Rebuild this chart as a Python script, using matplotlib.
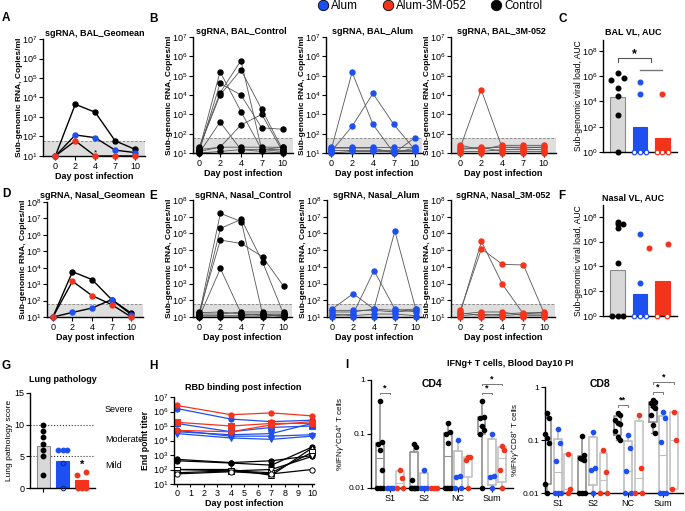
import matplotlib
matplotlib.use('Agg')
import matplotlib.pyplot as plt
import numpy as np
from matplotlib.lines import Line2D
from matplotlib.ticker import FuncFormatter, NullLocator

plt.rcParams['font.family'] = ['Liberation Sans', 'DejaVu Sans']
plt.rcParams['mathtext.fontset'] = 'custom'
plt.rcParams['mathtext.rm'] = 'Liberation Sans'
plt.rcParams['mathtext.it'] = 'Liberation Sans:italic'
plt.rcParams['mathtext.bf'] = 'Liberation Sans:bold'

# ---------------- data ----------------
DAYS = [0, 2, 4, 7, 10]
LOD = 60

bal_geo_control = [10, 4500, 1750, 60, 22]
bal_geo_alum = [10, 120, 87, 20, 15]
bal_geo_3m = [10, 60, 10, 10, 10]

nasal_geo_control = [10, 5700, 1900, 115, 17]
nasal_geo_alum = [10, 19, 35, 115, 14]
nasal_geo_3m = [10, 1500, 200, 57, 10]

bal_control = [
    [15, 1.6e5, 1.4e3, 15, 15],
    [12, 4e4, 1e4, 200, 170],
    [20, 1.3e4, 6e5, 15, 12],
    [18, 1e4, 2e5, 1.8e3, 15],
    [10, 400, 15, 15, 20],
    [15, 20, 280, 1e3, 12],
    [12, 20, 20, 20, 20],
    [10, 12, 15, 12, 10],
]
bal_alum = [
    [15, 1.5e5, 300, 10, 60],
    [12, 240, 1.2e4, 300, 15],
    [20, 20, 20, 20, 20],
    [15, 15, 15, 15, 15],
    [10, 12, 12, 12, 12],
    [18, 18, 18, 10, 18],
]
bal_3m = [
    [20, 1.9e4, 20, 20, 20],
    [25, 15, 25, 25, 25],
    [12, 12, 15, 15, 15],
    [15, 20, 12, 12, 12],
    [10, 10, 10, 10, 10],
    [18, 18, 20, 18, 20],
]

nasal_control = [
    [15, 1.6e7, 5e6, 15, 12],
    [12, 2e6, 7e6, 2e4, 15],
    [20, 4e5, 2.5e5, 4e4, 700],
    [10, 8e3, 15, 15, 15],
    [15, 15, 20, 20, 20],
    [18, 20, 15, 12, 12],
    [12, 12, 12, 15, 10],
    [10, 10, 10, 10, 15],
]
nasal_alum = [
    [30, 250, 30, 25, 30],
    [12, 15, 6e3, 30, 20],
    [20, 20, 30, 1.4e6, 30],
    [25, 25, 25, 20, 25],
    [15, 12, 15, 15, 12],
    [10, 10, 10, 10, 10],
]
nasal_3m = [
    [20, 3.3e5, 900, 15, 15],
    [25, 1.2e5, 1.4e4, 1.3e4, 15],
    [15, 20, 20, 12, 12],
    [12, 15, 12, 15, 20],
    [10, 10, 10, 10, 10],
    [18, 12, 15, 18, 18],
]

# AUC panels (C, F)
bal_auc_bars = [2.2e4, 100, 12]
bal_auc_control = [1.9e6, 6.5e5, 4.5e5, 1.1e5, 2.7e4, 800, 1]
bal_auc_alum = [3.2e5, 3.7e4, 1, 1, 1]
bal_auc_3m = [3.7e4, 1, 1, 1]

nasal_auc_bars = [5e3, 63, 630]
nasal_auc_control = [3.7e7, 2.5e7, 2.5e7, 1.3e7, 1.9e4, 1, 1, 1]
nasal_auc_alum = [4e6, 500, 1, 1, 1]
nasal_auc_3m = [3e5, 6e5, 1, 1]

# G lung pathology
lung_bars = [6.7, 4.3, 1.2]
lung_control = [10, 9, 8, 7, 6, 5, 2]
lung_alum = [6, 6, 6]
lung_alum_open = [4, 0]
lung_3m = [2, 2.5, 0, 0, 0]

# H RBD binding
rbd_days = [0, 4, 7, 10]
rbd_3m = [[2.6e6, 6e5, 8e5, 5e5],
          [1.8e5, 1e5, 1.5e5, 1.5e5],
          [5e4, 4e4, 1.2e5, 2e5]]
rbd_alum = [[1.6e6, 3e5, 2e5, 2.5e5],
            [1.5e5, 4e4, 8e4, 1e5],
            [4e4, 2.5e4, 3e4, 1.5e5],
            [3e4, 1.5e4, 1.2e4, 2e4],
            [5e4, 2e4, 2e4, 2.5e4]]
rbd_control = [[500, 300, 400, 900],
               [400, 280, 200, 3500],
               [100, 100, 40, 3000],
               [100, 80, 60, 1500],
               [60, 80, 100, 800],
               [50, 70, 50, 100]]

# I IFNg+ T cells
I_CATS = ['S1', 'S2', 'NC', 'Sum']
cd4_control = [[0.4, 0.07, 0.066, 0.05, 0.022, 0.01, 0.01, 0.01],
               [0.066, 0.057, 0.014, 0.01, 0.01, 0.01, 0.01, 0.01],
               [0.16, 0.107, 0.1, 0.068, 0.01, 0.01, 0.01, 0.01],
               [0.4, 0.21, 0.2, 0.14, 0.12, 0.1, 0.01]]
cd4_alum = [[0.01, 0.01, 0.01, 0.01],
            [0.022, 0.01, 0.01, 0.01],
            [0.078, 0.017, 0.016, 0.01, 0.01],
            [0.1, 0.017, 0.016, 0.01]]
cd4_3m = [[0.022, 0.015, 0.01, 0.01],
          [0.01, 0.01, 0.01],
          [0.038, 0.037, 0.033, 0.01],
          [0.06, 0.05, 0.022, 0.01]]
cd8_control = [[0.33, 0.26, 0.13, 0.108, 0.086, 0.0146, 0.01],
               [0.12, 0.052, 0.045, 0.044, 0.042, 0.01, 0.01, 0.01],
               [0.32, 0.3, 0.24, 0.21, 0.2, 0.15, 0.115, 0.1],
               [0.57, 0.53, 0.49, 0.44, 0.4, 0.3, 0.19, 0.134]]
cd8_alum = [[0.16, 0.086, 0.04, 0.01, 0.01, 0.01],
            [0.14, 0.029, 0.027, 0.01],
            [0.125, 0.07, 0.026, 0.01, 0.01],
            [0.34, 0.26, 0.093, 0.01, 0.01, 0.01]]
cd8_3m = [[0.054, 0.012, 0.01],
          [0.066, 0.025, 0.01, 0.01],
          [0.3, 0.029, 0.01, 0.01],
          [0.34, 0.1, 0.012]]

# ---------------- style ----------------
BLUE = '#1E4FF0'
RED = '#F5331B'
BLACK = '#000000'
GREYBAR = '#D8D8D8'
FS = 6.5

W, H = 685, 511
fig = plt.figure(figsize=(W / 100, H / 100), dpi=100)


def px_axes(l, t, r, b):
    return fig.add_axes([l / W, 1 - b / H, (r - l) / W, (b - t) / H])


def ftext(x, y, s, **kw):
    kw.setdefault('ha', 'center')
    kw.setdefault('va', 'center')
    fig.text(x / W, 1 - y / H, s, **kw)


def ylab_at(ax, xpx):
    # xpx: centre of the rotated label in figure pixels
    pos = ax.get_position()
    ax.yaxis.set_label_coords(((xpx + 4) / W - pos.x0) / pos.width, 0.5)


def style(ax):
    for s in ['top', 'right']:
        ax.spines[s].set_visible(False)
    for s in ['left', 'bottom']:
        ax.spines[s].set_linewidth(1.0)
    ax.tick_params(labelsize=FS, length=3, width=0.8, pad=1.2)


pow_fmt = FuncFormatter(lambda v, _: r'$10^{%d}$' % round(np.log10(v)))


def log_y(ax, lo, hi, step=1, top=None):
    ax.set_yscale('log')
    ax.set_ylim(10.0 ** lo, 10.0 ** (top if top is not None else hi))
    ax.set_yticks([10.0 ** k for k in range(lo, hi + 1, step)])
    ax.yaxis.set_major_formatter(pow_fmt)
    ax.yaxis.set_minor_locator(NullLocator())


def sg_axes(box, top_exp, xlim):
    ax = px_axes(*box)
    style(ax)
    log_y(ax, 1, top_exp)
    ax.set_xlim(*xlim)
    ax.set_xticks(range(len(DAYS)))
    ax.set_xticklabels(DAYS)
    ax.axhspan(10, LOD, color='#dedede', lw=0, zorder=0)
    ax.axhline(LOD, ls=(0, (3, 2)), color='#808080', lw=0.6, zorder=1)
    ax.set_xlabel('Day post infection', fontweight='bold', fontsize=FS, labelpad=1)
    ax.set_ylabel('Sub-genomic RNA, Copies/ml', fontweight='bold', fontsize=6.0)
    ylab_at(ax, box[0] - 24)
    return ax


def geo_panel(box, top_exp, xlim, series):
    ax = sg_axes(box, top_exp, xlim)
    x = np.arange(len(DAYS))
    for vals, c in series:
        ax.plot(x, vals, color=BLACK, lw=1.0, zorder=2, clip_on=False)
    for vals, c in series:
        ax.plot(x, vals, 'o', color=c, ms=3.6, zorder=3, clip_on=False)
    return ax


def indiv_panel(box, top_exp, xlim, animals, c):
    ax = sg_axes(box, top_exp, xlim)
    x = np.arange(len(DAYS))
    for vals in animals:
        ax.plot(x, vals, color='#555555', lw=0.6, zorder=2, clip_on=False)
    for vals in animals:
        ax.plot(x, vals, 'o', color=c, ms=3.6, zorder=3, clip_on=False)
    return ax


# ---------------- A / B ----------------
ax = geo_panel((43, 39, 145, 156), 7, (-0.62, 4.5),
               [(bal_geo_control, BLACK), (bal_geo_alum, BLUE), (bal_geo_3m, RED)])
ax.text(2, 14, '*', ha='center', va='center', fontsize=6)
indiv_panel((193, 37, 293, 153), 7, (-0.3, 4.5), bal_control, BLACK)
indiv_panel((326, 37, 422, 153), 7, (-0.25, 4.35), bal_alum, BLUE)
indiv_panel((451, 37, 556, 153), 7, (-0.45, 4.6), bal_3m, RED)

# ---------------- D / E ----------------
geo_panel((47, 202, 143, 317), 8, (-0.3, 4.6),
          [(nasal_geo_control, BLACK), (nasal_geo_alum, BLUE), (nasal_geo_3m, RED)])
indiv_panel((193, 200, 292, 317), 8, (-0.3, 4.4), nasal_control, BLACK)
indiv_panel((327, 200, 422, 317), 8, (-0.25, 4.3), nasal_alum, BLUE)
indiv_panel((451, 200, 555, 317), 8, (-0.45, 4.5), nasal_3m, RED)


# ---------------- C / F ----------------
def auc_panel(box, top, bars, groups, offsets):
    ax = px_axes(*box)
    style(ax)
    log_y(ax, 0, 8, step=2, top=top)
    ax.set_xlim(-0.68, 2.68)
    ax.set_xticks([])
    pos = np.arange(3)
    ax.bar(pos, np.array(bars) - 1, bottom=1, width=0.68,
           color=[GREYBAR, BLUE, RED], edgecolor=['#8a8a8a', BLUE, RED], lw=0.8, zorder=1)
    for i, (vals, c) in enumerate(groups):
        for v, o in zip(vals, offsets[i]):
            if v <= 1 and c != BLACK:
                ax.plot(i + o, v, 'o', ms=3.3, mfc='white', mec=c, mew=0.9, zorder=3, clip_on=False)
            else:
                ax.plot(i + o, v, 'o', ms=3.3, color=c, zorder=3, clip_on=False)
    ax.set_ylabel('Sub-genomic viral load, AUC', fontsize=6.2)
    ylab_at(ax, 579)
    return ax


ax = auc_panel((603, 40, 677, 152), 8.85, bal_auc_bars,
               [(bal_auc_control, BLACK), (bal_auc_alum, BLUE), (bal_auc_3m, RED)],
               [[0, 0.27, -0.3, 0, 0, 0, 0], [0, 0, -0.25, 0, 0.25], [0, -0.25, 0, 0.25]])
ax.plot([0, 0, 1.5, 1.5], [10 ** 7.15, 10 ** 7.45, 10 ** 7.45, 10 ** 7.15], color='#555555', lw=0.8, clip_on=False)
ax.text(0.75, 10 ** 7.7, '*', ha='center', va='center', fontsize=9, fontweight='bold')
ax.plot([1, 2], [10 ** 6.45, 10 ** 6.45], color='#777777', lw=1.0)

auc_panel((603, 205, 677, 316), 8.95, nasal_auc_bars,
          [(nasal_auc_control, BLACK), (nasal_auc_alum, BLUE), (nasal_auc_3m, RED)],
          [[0, 0, 0.25, 0, 0, -0.25, 0, 0.25], [0, 0, -0.25, 0, 0.25], [-0.6, 0.25, -0.22, 0.22]])

# ---------------- G ----------------
ax = px_axes(30, 393, 95, 488)
style(ax)
ax.set_ylim(0, 15)
ax.set_yticks([0, 5, 10, 15])
ax.set_xlim(-0.67, 2.67)
ax.set_xticks([0])
ax.set_xticklabels([''])
ax.bar(range(3), lung_bars, width=0.67, color=[GREYBAR, BLUE, RED],
       edgecolor=['#8a8a8a', BLUE, RED], lw=0.8, zorder=1)
for lv in (5, 10):
    ax.axhline(lv, ls=':', color='#333333', lw=0.8, zorder=0)
ax.plot(np.zeros(len(lung_control)), lung_control, 'o', color=BLACK, ms=3.2, zorder=3, clip_on=False)
ax.plot(1 + np.array([-0.22, 0, 0.22]), lung_alum, 'o', color=BLUE, ms=3.2, zorder=3, clip_on=False)
ax.plot(np.ones(len(lung_alum_open)), lung_alum_open, 'o', mfc='none', mec='#0c2a9a', mew=0.8,
        ms=3.2, zorder=3, clip_on=False)
ax.plot(2 + np.array([-0.25, 0.22, -0.2, 0, 0.2]), lung_3m, 'o', color=RED, ms=3.2, zorder=3, clip_on=False)
ax.text(2, 3.7, '*', ha='center', va='center', fontsize=8, fontweight='bold')
ax.set_ylabel('Lung pathology score', fontsize=6.0)
ylab_at(ax, 9)
ftext(105, 410, 'Severe', ha='left', fontsize=FS)
ftext(105, 440, 'Moderate', ha='left', fontsize=FS)
ftext(105, 466, 'Mild', ha='left', fontsize=FS)

# ---------------- H ----------------
ax = px_axes(174, 397, 314, 484)
style(ax)
ax.tick_params(axis='x', length=2.5, pad=1)
log_y(ax, 1, 7)
ax.set_xlim(-0.22, 10.15)
ax.set_xticks(range(11))
rbd_sets = [(rbd_control, BLACK, ['o', 'o', '^', 's', 'v', 'o'], [True, True, False, False, False, False]),
            (rbd_alum, BLUE, ['o', 's', 'v', 'v', 'o'], [True] * 5),
            (rbd_3m, RED, ['o', 's', 'o'], [True] * 3)]
for curves, c, mk, filled in rbd_sets:
    for vals, m, f in zip(curves, mk, filled):
        ax.plot(rbd_days, vals, '-', color=c, lw=0.9, marker=m, ms=3.8,
                mfc=c if f else 'white', mec=c, mew=0.7, clip_on=False)
ax.set_xlabel('Day post infection', fontweight='bold', fontsize=FS, labelpad=0.5)
ax.set_ylabel('End point titer', fontweight='bold', fontsize=6.2)
ylab_at(ax, 146)


# ---------------- I ----------------
def spread(vals, floor):
    vals = np.asarray(vals)
    offs = np.zeros(len(vals))
    low = np.where(vals <= floor * 1.001)[0]
    if len(low) > 1:
        offs[low] = np.linspace(-0.09, 0.09, len(low))
    pattern = [0, 0.06, -0.06]
    k = 0
    for i in np.argsort(-vals):
        if i in low:
            continue
        offs[i] = pattern[k % 3]
        k += 1
    return offs


def box_stats(vals):
    q1, med, q3 = np.percentile(vals, [25, 50, 75], method='weibull')
    return dict(med=med, q1=q1, q3=q3, whislo=min(vals), whishi=max(vals))


def tcell_panel(box, xlim, groups, ylabel, ylab_x, title, title_xy):
    ax = px_axes(*box)
    style(ax)
    ax.tick_params(axis='y', labelsize=6.0)
    ax.set_yscale('log')
    ax.set_ylim(0.01, 1)
    ax.set_yticks([0.01, 0.1, 1])
    ax.set_yticklabels(['0.01', '0.1', '1'])
    ax.yaxis.set_minor_locator(NullLocator())
    ax.set_xlim(*xlim)
    ax.set_xticks(range(len(I_CATS)))
    ax.set_xticklabels(I_CATS)
    shifts = [-0.3, 0, 0.3]
    box_cols = ['#8f8f8f', '#bdbdbd', '#c4c4c4']
    for gi, (data, c) in enumerate(groups):
        for ci, vals in enumerate(data):
            p = ci + shifts[gi]
            ax.bxp([box_stats(vals)], positions=[p], widths=0.22, showfliers=False,
                   boxprops=dict(color=box_cols[gi], lw=1.2),
                   whiskerprops=dict(color=box_cols[gi], lw=1.2),
                   capprops=dict(color=box_cols[gi], lw=1.0),
                   medianprops=dict(color=box_cols[gi], lw=0.8), capwidths=0.1, manage_ticks=False)
            ax.plot(p + spread(vals, 0.01), vals, 'o', color=c, ms=3.0, zorder=3, clip_on=False)
    ax.set_ylabel(ylabel, fontsize=5.8)
    ylab_at(ax, ylab_x)
    ftext(*title_xy, title, fontweight='bold', fontsize=7.5)
    return ax


def sig(ax, x1, x2, y, txt):
    ax.plot([x1, x1, x2, x2], [y * 0.93, y, y, y * 0.93], color='#777777', lw=0.7, clip_on=False)
    ax.text((x1 + x2) / 2, y * 1.02, txt, ha='center', va='bottom', fontsize=6.5, fontweight='bold')


ax4 = tcell_panel((371, 380, 513, 488), (-0.56, 3.62),
                  [(cd4_control, BLACK), (cd4_alum, BLUE), (cd4_3m, RED)],
                  r'%IFN$\gamma^{+}$CD4$^{+}$ T cells', 343, 'CD4', (432, 384))
sig(ax4, -0.3, 0, 0.58, '*')
sig(ax4, 2.7, 3.0, 0.58, '*')
sig(ax4, 2.7, 3.3, 0.86, '*')
ax8 = tcell_panel((545, 387, 683, 493), (-0.36, 3.56),
                  [(cd8_control, BLACK), (cd8_alum, BLUE), (cd8_3m, RED)],
                  r'%IFN$\gamma^{+}$CD8$^{+}$ T cells', 518, 'CD8', (600, 384))
sig(ax8, 1.7, 2.0, 0.46, '**')
sig(ax8, 2.7, 3.0, 0.8, '*')
sig(ax8, 2.7, 3.3, 1.25, '*')

# ---------------- titles, letters, legend ----------------
TB = dict(fontweight='bold', fontsize=FS)
ftext(95, 33, 'sgRNA, BAL_Geomean', **TB)
ftext(241, 32, 'sgRNA, BAL_Control', **TB)
ftext(373, 32, 'sgRNA, BAL_Alum', **TB)
ftext(501, 32, 'sgRNA, BAL_3M-052', **TB)
ftext(633, 32, 'BAL VL, AUC', **TB)
ftext(93, 195, 'sgRNA, Nasal_Geomean', **TB)
ftext(243, 195, 'sgRNA, Nasal_Control', **TB)
ftext(376, 195, 'sgRNA, Nasal_Alum', **TB)
ftext(503, 195, 'sgRNA, Nasal_3M-052', **TB)
ftext(633, 198, 'Nasal VL, AUC', **TB)
ftext(63, 379, 'Lung pathology', **TB)
ftext(243, 387, 'RBD binding post infection', **TB)
ftext(510, 363, 'IFNg+ T cells, Blood Day10 PI', **TB)

LB = dict(fontweight='bold', fontsize=8.5)
for letter, x, y in [('A', 6, 18), ('B', 153, 19), ('C', 563, 19), ('D', 6, 194),
                     ('E', 153, 196), ('F', 562, 196), ('G', 6, 366), ('H', 153, 366),
                     ('I', 347, 365)]:
    ftext(x, y, letter, **LB)

handles = [Line2D([], [], ls='none', marker='o', ms=7.5, color=c, mec='black', mew=0.6)
           for c in (BLUE, RED, BLACK)]
fig.legend(handles, ['Alum', 'Alum-3M-052', 'Control'], loc='upper left',
           bbox_to_anchor=(318 / W, 1.0), ncol=3, frameon=False, fontsize=8.5,
           handlelength=0.8, handletextpad=0.3, columnspacing=2.1, borderpad=0, borderaxespad=0)

fig.savefig('out.png', dpi=100)
